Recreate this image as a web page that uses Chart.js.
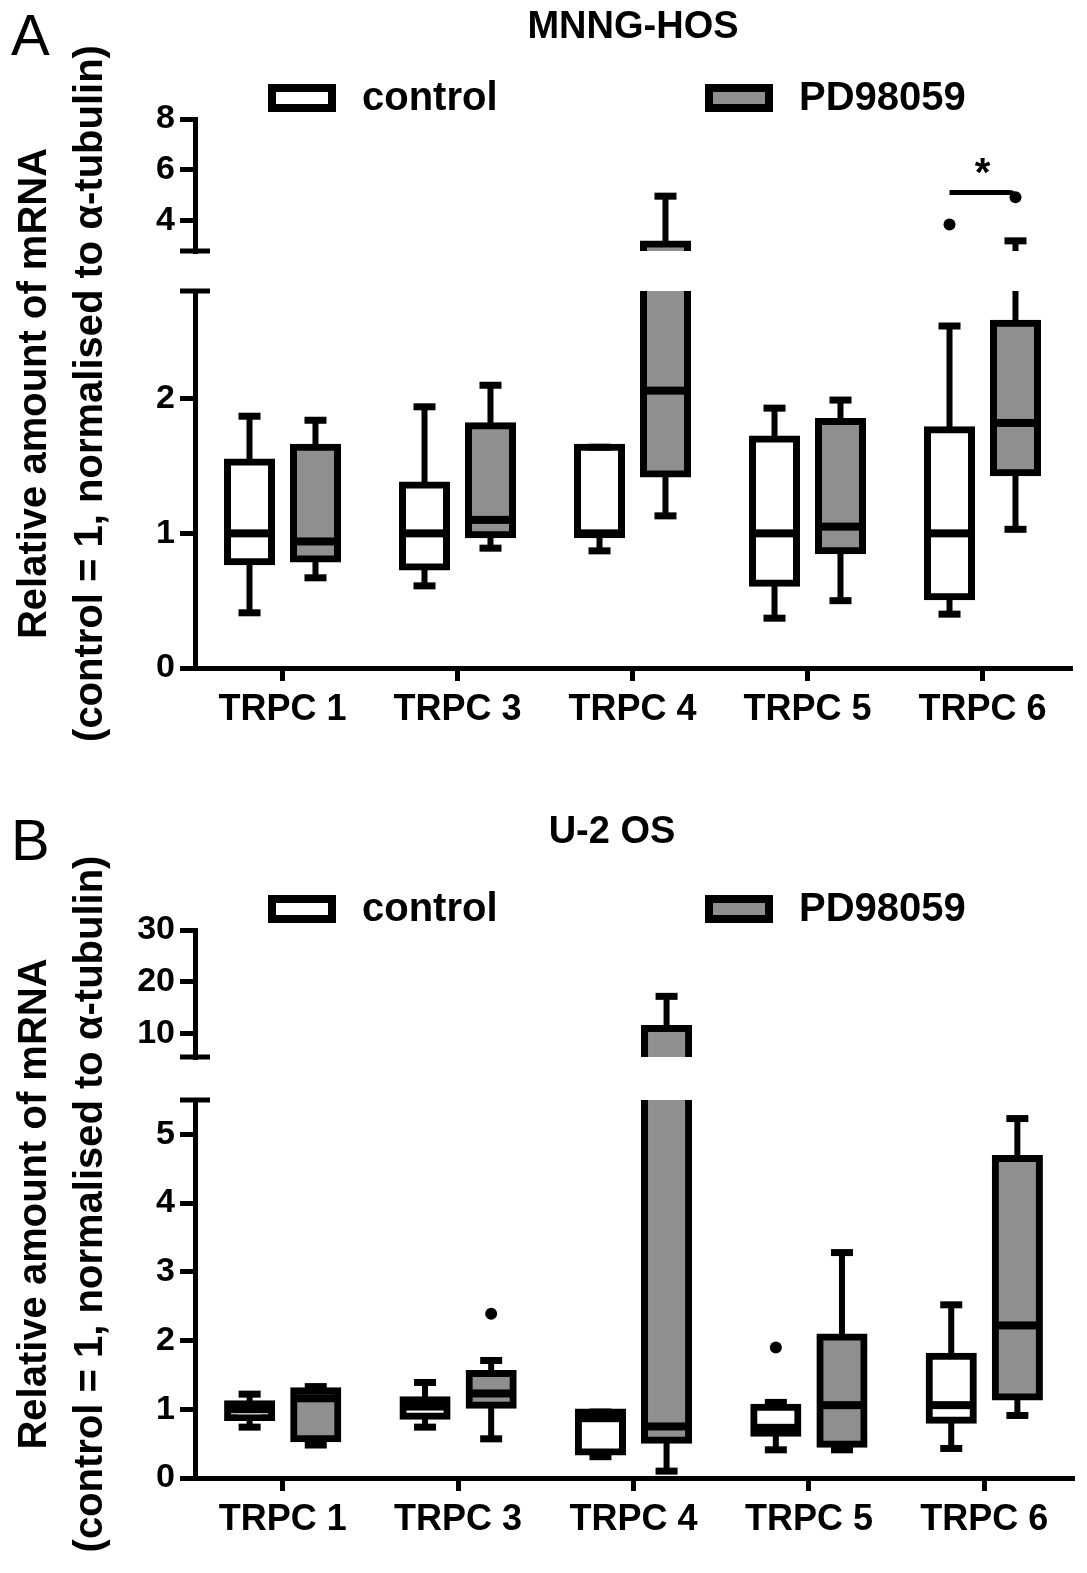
<!DOCTYPE html>
<html>
<head>
<meta charset="utf-8">
<script src="https://cdn.jsdelivr.net/npm/chart.js"></script>
<style>
  body { margin: 0; background: #fff; }
  .panel { position: relative; width: 1087px; }
  #panelA { height: 786px; }
  #panelB { height: 787px; }
</style>
</head>
<body>
<div class="panel" id="panelA"><canvas id="chartA"></canvas></div>
<div class="panel" id="panelB"><canvas id="chartB"></canvas></div>
<script>
const categories = ["TRPC 1", "TRPC 3", "TRPC 4", "TRPC 5", "TRPC 6"];
const seriesLabels = ["control", "PD98059"];
const yTitle = ["Relative amount of mRNA", "(control = 1, normalised to \u03b1-tubulin)"];

// A: MNNG-HOS
const ctrlMinA = [0.41, 0.61, 0.87, 0.37, 0.40];
const ctrlQ1A  = [0.79, 0.75, 0.99, 0.63, 0.53];
const ctrlMedA = [1.00, 1.00, 1.00, 1.00, 1.00];
const ctrlQ3A  = [1.53, 1.36, 1.64, 1.70, 1.77];
const ctrlMaxA = [1.87, 1.94, 1.64, 1.93, 2.54];
const ctrlOutA = [null, null, null, null, 3.84];
const pdMinA = [0.67, 0.89, 1.13, 0.50, 1.03];
const pdQ1A  = [0.81, 0.99, 1.44, 0.87, 1.45];
const pdMedA = [0.94, 1.10, 2.06, 1.05, 1.82];
const pdQ3A  = [1.64, 1.80, 3.08, 1.83, 2.56];
const pdMaxA = [1.84, 2.10, 4.96, 1.99, 3.20];
const pdOutA = [null, null, null, null, 4.92];
const lowTicksA = [0, 1, 2];
const highTicksA = [4, 6, 8];
const breakA = 2.8, topA = 8;
const sigA = { index: 4, value: 5.1, label: "*" };

// B: U-2 OS
const ctrlMinB = [0.74, 0.74, 0.31, 0.41, 0.43];
const ctrlQ1B  = [0.88, 0.90, 0.38, 0.65, 0.84];
const ctrlMedB = [1.00, 1.04, 0.87, 0.73, 1.06];
const ctrlQ3B  = [1.08, 1.14, 0.96, 1.03, 1.77];
const ctrlMaxB = [1.22, 1.39, 0.96, 1.10, 2.52];
const ctrlOutB = [null, null, null, 1.90, null];
const pdMinB = [0.48, 0.57, 0.10, 0.41, 0.91];
const pdQ1B  = [0.57, 1.06, 0.55, 0.49, 1.18];
const pdMedB = [1.16, 1.23, 0.75, 1.06, 2.22];
const pdQ3B  = [1.27, 1.52, 11.0, 2.05, 4.65];
const pdMaxB = [1.33, 1.71, 17.2, 3.28, 5.23];
const pdOutB = [null, 2.39, null, null, null];
const lowTicksB = [0, 1, 2, 3, 4, 5];
const highTicksB = [10, 20, 30];
const breakB = 5.5, topB = 30;

const FONT = 'Arial, "Liberation Sans", sans-serif';
const fills = ["#ffffff", "#8f8f8f"];

function clipTo(chart, scale) {
  const ctx = chart.ctx;
  ctx.save();
  ctx.beginPath();
  ctx.rect(chart.chartArea.left, scale.top, chart.width - chart.chartArea.left, scale.bottom - scale.top);
  ctx.clip();
}

function inRange(scale, v) {
  return v != null && v >= scale.min && v <= scale.max;
}

function makeBoxPlugin(stats, sig, look) {
  return {
    id: "boxes",
    beforeDatasetDraw(chart, args) {
      clipTo(chart, chart.scales[args.meta.yAxisID]);
    },
    afterDatasetDraw(chart) {
      chart.ctx.restore();
    },
    afterDatasetsDraw(chart) {
      const ctx = chart.ctx;
      ["yLow", "yHigh"].forEach(id => {
        const y = chart.scales[id];
        clipTo(chart, y);
        ctx.fillStyle = "#000";
        ctx.strokeStyle = "#000";
        stats.forEach((s, k) => {
          chart.getDatasetMeta(k).data.forEach((bar, i) => {
            const x = bar.x, w = bar.width;
            const px = v => y.getPixelForValue(v);
            // whiskers
            ctx.lineWidth = 6;
            ctx.beginPath();
            ctx.moveTo(x, px(s.q3[i])); ctx.lineTo(x, px(s.max[i]));
            ctx.moveTo(x, px(s.q1[i])); ctx.lineTo(x, px(s.min[i]));
            ctx.stroke();
            // caps and median, only where the value sits on this segment
            if (inRange(y, s.max[i])) ctx.fillRect(x - 11, px(s.max[i]) - 3.5, 22, 7);
            if (inRange(y, s.min[i])) ctx.fillRect(x - 11, px(s.min[i]) - 3.5, 22, 7);
            if (inRange(y, s.med[i])) ctx.fillRect(x - w / 2, px(s.med[i]) - 4, w, 8);
            if (inRange(y, s.out[i])) {
              ctx.beginPath();
              ctx.arc(x, px(s.out[i]), 6, 0, Math.PI * 2);
              ctx.fill();
            }
          });
        });
        if (sig && inRange(y, sig.value)) {
          const x1 = chart.getDatasetMeta(0).data[sig.index].x;
          const x2 = chart.getDatasetMeta(1).data[sig.index].x;
          const py = y.getPixelForValue(sig.value);
          ctx.lineWidth = 5;
          ctx.beginPath();
          ctx.moveTo(x1, py);
          ctx.arcTo(x2, py, x2, py + 8, 6);
          ctx.lineTo(x2, py + 6);
          ctx.stroke();
          ctx.font = "bold 40px " + FONT;
          ctx.textAlign = "center";
          ctx.textBaseline = "middle";
          ctx.fillText(sig.label, (x1 + x2) / 2, py - 18);
        }
        ctx.restore();
      });
    },
    afterDraw(chart) {
      const ctx = chart.ctx;
      const ca = chart.chartArea;
      const low = chart.scales.yLow, high = chart.scales.yHigh;
      ctx.save();
      ctx.fillStyle = "#000";
      // axis break caps
      ctx.fillRect(ca.left - 15, low.top - 2.5, 30, 5);
      ctx.fillRect(ca.left - 15, high.bottom - 2.5, 30, 5);

      // legend
      const cy = ca.top - 21;
      [73, 510].forEach((dx, k) => {
        const ds = chart.data.datasets[k];
        const bx = ca.left + dx;
        ctx.fillStyle = ds.backgroundColor;
        ctx.fillRect(bx, cy - 14, 68, 28);
        ctx.lineWidth = 8;
        ctx.strokeStyle = "#000";
        ctx.strokeRect(bx + 4, cy - 10, 60, 20);
        ctx.fillStyle = "#000";
        ctx.font = "bold 40px " + FONT;
        ctx.textAlign = "left";
        ctx.textBaseline = "middle";
        ctx.fillText(ds.label, bx + 94, cy + 1);
      });

      // panel title and letter
      ctx.font = "bold 38px " + FONT;
      ctx.textAlign = "center";
      ctx.textBaseline = "middle";
      ctx.fillText(look.title, look.titleX, look.titleY);
      ctx.font = "58px " + FONT;
      ctx.textAlign = "left";
      ctx.textBaseline = "alphabetic";
      ctx.fillText(look.letter, 11, look.letterY);

      // y title, two lines
      ctx.translate(35, (ca.top + ca.bottom) / 2);
      ctx.rotate(-Math.PI / 2);
      ctx.font = "bold 40px " + FONT;
      ctx.textAlign = "center";
      ctx.textBaseline = "middle";
      ctx.fillText(yTitle[0], 0, 0);
      ctx.fillText(yTitle[1], 0, 56);
      ctx.restore();
    }
  };
}

function boxSets(stats, axis) {
  return stats.map((s, k) => ({
    label: seriesLabels[k],
    data: s.q1.map((v, i) => [v, s.q3[i]]),
    yAxisID: axis,
    stack: "s" + k,
    backgroundColor: fills[k],
    borderColor: "#000",
    borderWidth: 7,
    borderSkipped: false,
    inflateAmount: 3.5,
    categoryPercentage: 0.754,
    barPercentage: 0.667
  }));
}

function yAxis(min, max, ticks, weight) {
  return {
    type: "linear",
    position: "left",
    stack: "v",
    stackWeight: weight,
    stacked: false,
    min: min,
    max: max,
    afterBuildTicks: s => { s.ticks = ticks.map(v => ({ value: v })); },
    afterFit: s => { s.width = 80; },
    grid: { drawOnChartArea: false, tickLength: 15, lineWidth: 5, color: "#000" },
    border: { color: "#000", width: 5 },
    ticks: { color: "#000", padding: 5, autoSkip: false,
             font: { family: FONT, size: 34, weight: "bold" } }
  };
}

function drawPanel(canvasId, stats, range, sig, look) {
  new Chart(document.getElementById(canvasId), {
    type: "bar",
    data: {
      labels: categories,
      datasets: [...boxSets(stats, "yLow"), ...boxSets(stats, "yHigh")]
    },
    options: {
      responsive: true,
      maintainAspectRatio: false,
      animation: false,
      events: [],
      layout: { padding: look.padding },
      plugins: { legend: { display: false }, tooltip: { enabled: false } },
      scales: {
        x: {
          grid: { drawOnChartArea: false, offset: false, tickLength: 13, lineWidth: 5, color: "#000" },
          border: { color: "#000", width: 5 },
          ticks: { color: "#000", padding: 7, autoSkip: false, maxRotation: 0,
                   font: { family: FONT, size: 36, weight: "bold" } },
          afterFit: s => { s.height = 60; }
        },
        yLow: yAxis(0, range.brk, range.low, look.weights[0]),
        yGap: {
          type: "linear", position: "left", stack: "v", stackWeight: look.weights[1],
          grid: { display: false }, border: { display: false }, ticks: { display: false },
          afterFit: s => { s.width = 80; }
        },
        yHigh: yAxis(range.brk, range.top, range.high, look.weights[2])
      }
    },
    plugins: [makeBoxPlugin(stats, sig, look)]
  });
}

const statsA = [
  { min: ctrlMinA, q1: ctrlQ1A, med: ctrlMedA, q3: ctrlQ3A, max: ctrlMaxA, out: ctrlOutA },
  { min: pdMinA, q1: pdQ1A, med: pdMedA, q3: pdQ3A, max: pdMaxA, out: pdOutA }
];
const statsB = [
  { min: ctrlMinB, q1: ctrlQ1B, med: ctrlMedB, q3: ctrlQ3B, max: ctrlMaxB, out: ctrlOutB },
  { min: pdMinB, q1: pdQ1B, med: pdMedB, q3: pdQ3B, max: pdMaxB, out: pdOutB }
];

drawPanel("chartA", statsA,
  { brk: breakA, top: topA, low: lowTicksA, high: highTicksA }, sigA,
  { title: "MNNG-HOS", titleX: 633, titleY: 28, letter: "A", letterY: 55,
    padding: { left: 115, top: 119, right: 17, bottom: 58 }, weights: [377, 40, 132] });

drawPanel("chartB", statsB,
  { brk: breakB, top: topB, low: lowTicksB, high: highTicksB }, null,
  { title: "U-2 OS", titleX: 612, titleY: 47, letter: "B", letterY: 74,
    padding: { left: 115, top: 144, right: 15, bottom: 35 }, weights: [378, 43, 127] });
</script>
</body>
</html>
